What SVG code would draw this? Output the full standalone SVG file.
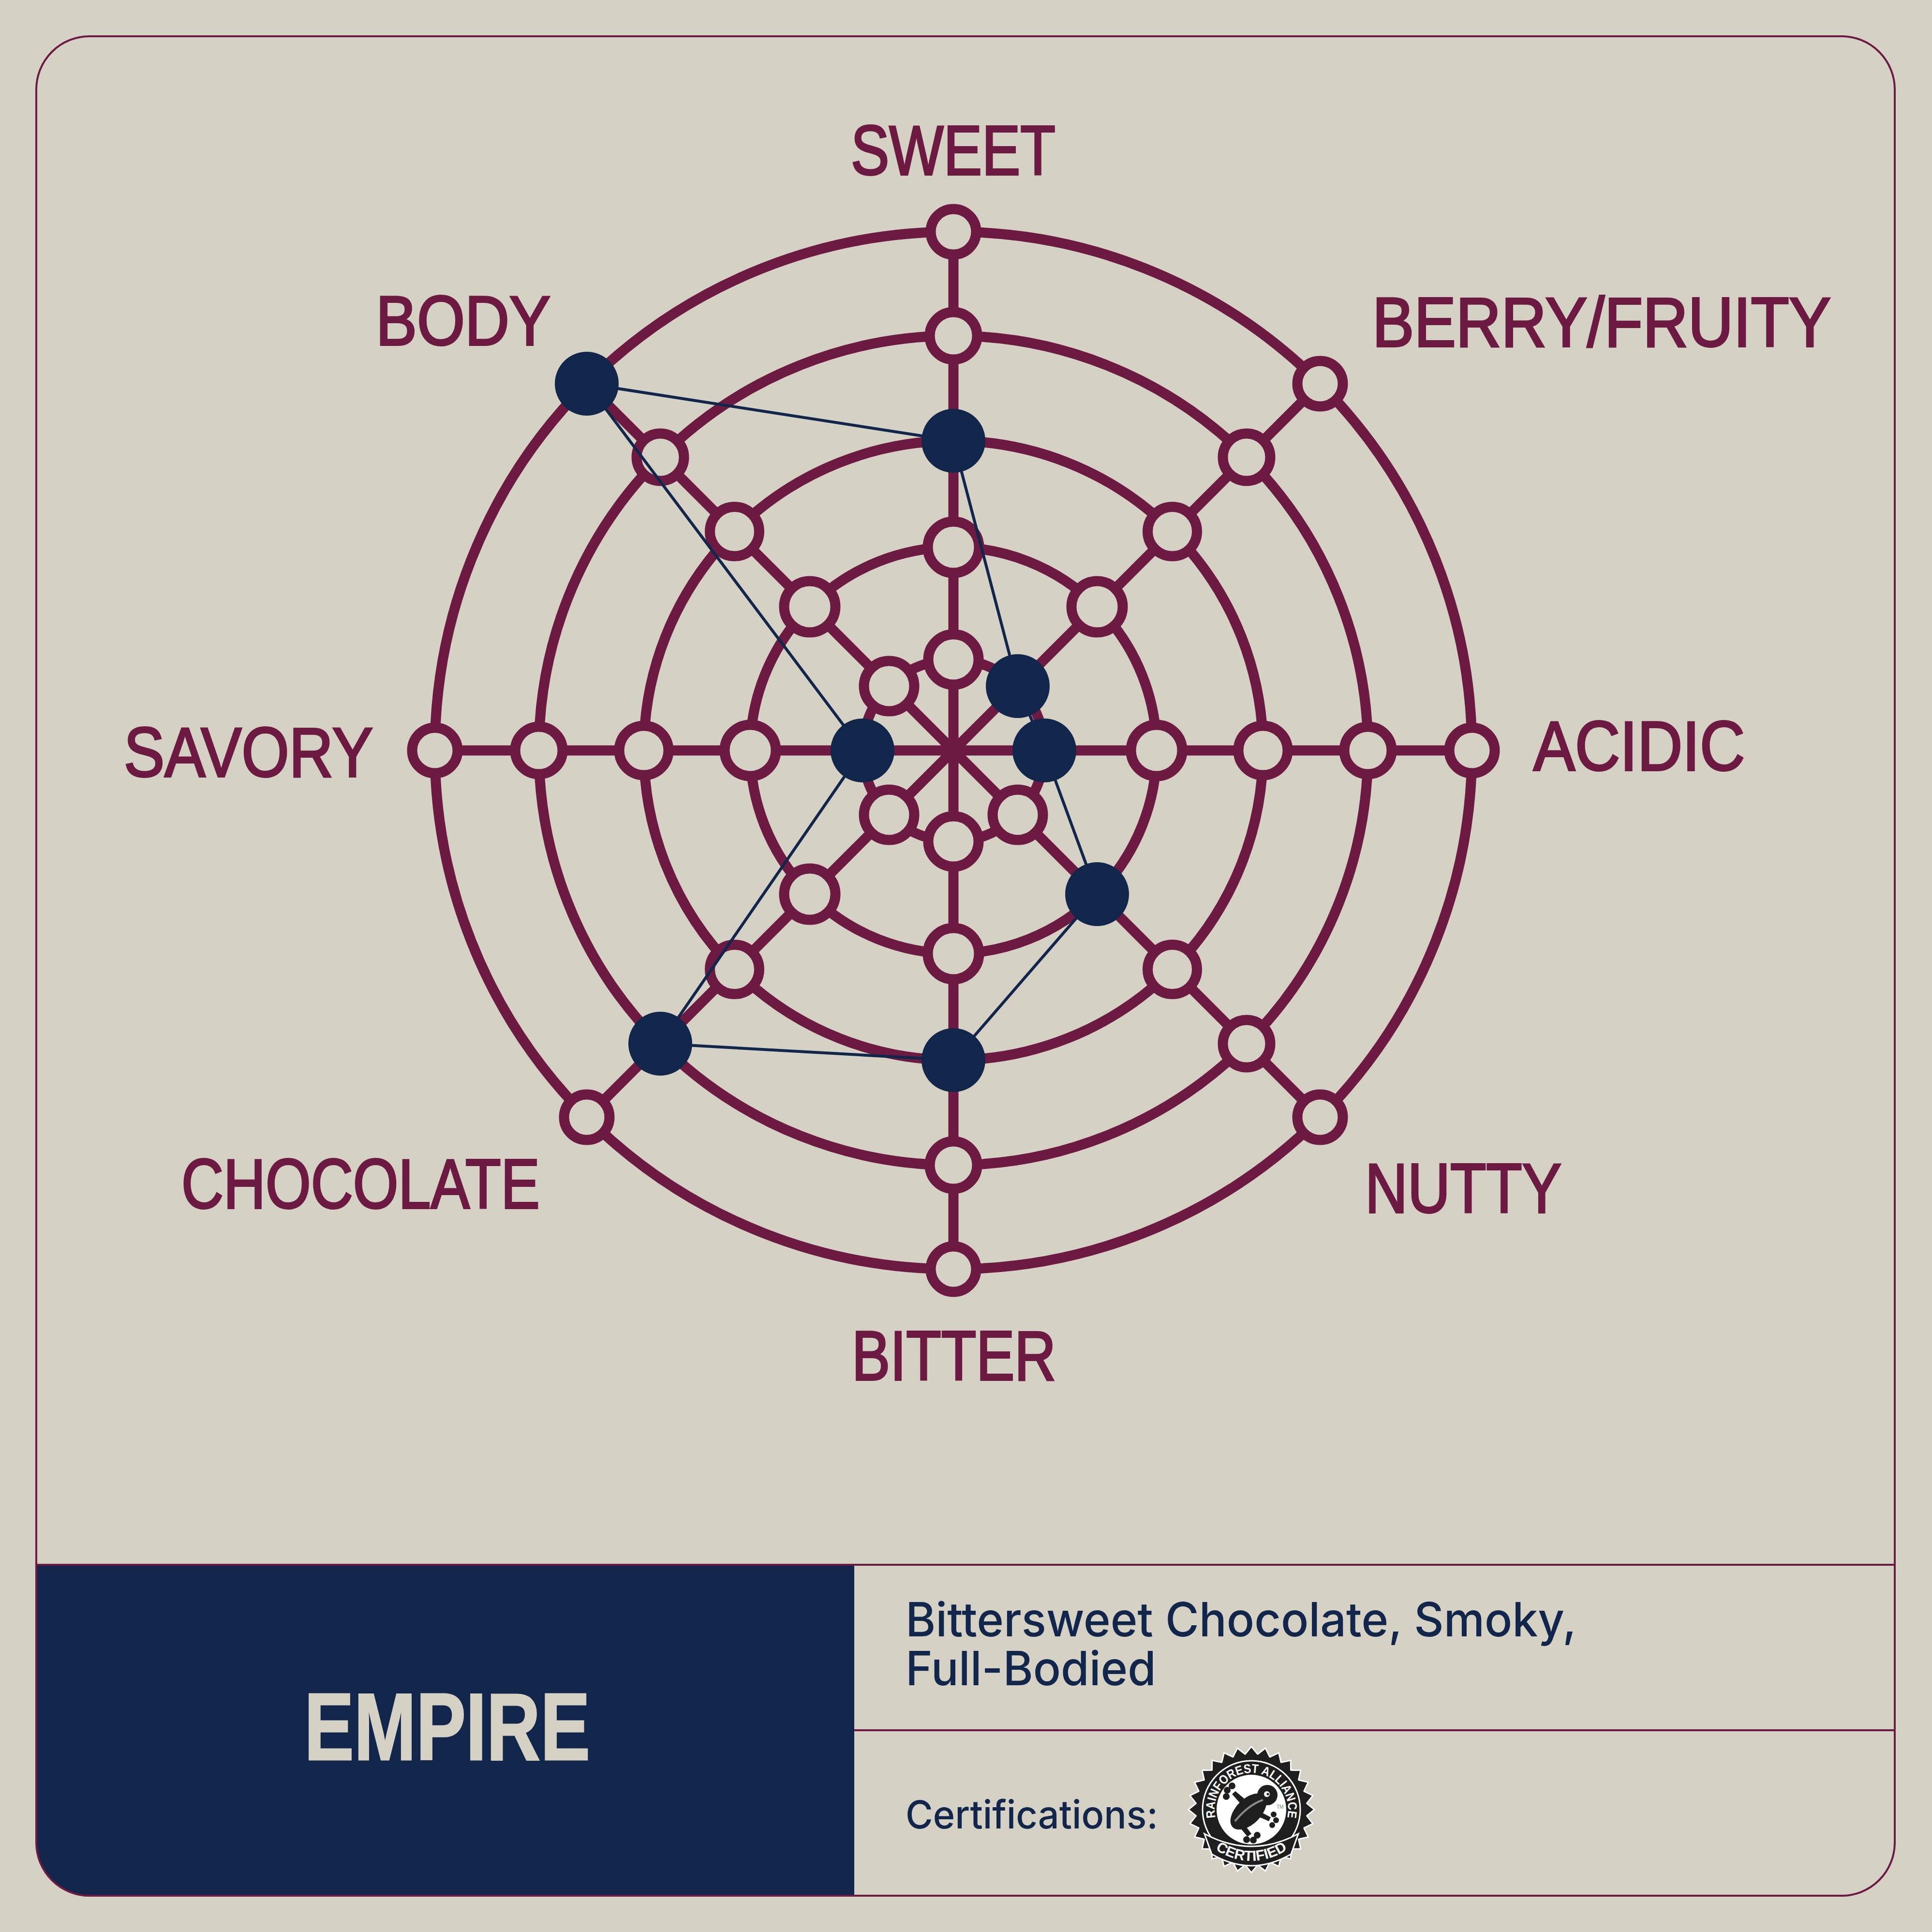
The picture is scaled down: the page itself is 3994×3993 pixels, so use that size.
<svg xmlns="http://www.w3.org/2000/svg" xmlns:xlink="http://www.w3.org/1999/xlink" width="3994" height="3993" viewBox="0 0 3994 3993">
<style>
.ring{fill:none;stroke:#6d1a43;stroke-width:21}
.spoke{stroke:#6d1a43;stroke-width:21}
.h0{fill:#d6d1c5;stroke:#6d1a43;stroke-width:21}
.f{fill:#12264b}
.lbl{font-family:"Liberation Sans",Arial,sans-serif;font-size:145px;fill:#6d1a43;stroke:#6d1a43;stroke-width:4}
.frame{fill:none;stroke:#6d1a43;stroke-width:4}
.desc{font-family:Inter,"Open Sans","Liberation Sans",sans-serif;font-weight:500;fill:#12264b}
.conn{fill:none;stroke:#12264b;stroke-width:6;stroke-linejoin:round}
.seal{font-family:"Liberation Sans",Arial,sans-serif;font-weight:bold;fill:#ffffff}
</style>
<defs>
<g id="spikes">
<polygon points="-13,-112 0,-128 13,-112"/><polygon points="-13,-112 0,-128 13,-112" transform="rotate(12.857)"/><polygon points="-13,-112 0,-128 13,-112" transform="rotate(25.714)"/><polygon points="-13,-112 0,-128 13,-112" transform="rotate(38.571)"/><polygon points="-13,-112 0,-128 13,-112" transform="rotate(51.429)"/><polygon points="-13,-112 0,-128 13,-112" transform="rotate(64.286)"/><polygon points="-13,-112 0,-128 13,-112" transform="rotate(77.143)"/><polygon points="-13,-112 0,-128 13,-112" transform="rotate(90)"/><polygon points="-13,-112 0,-128 13,-112" transform="rotate(102.857)"/><polygon points="-13,-112 0,-128 13,-112" transform="rotate(115.714)"/><polygon points="-13,-112 0,-128 13,-112" transform="rotate(128.571)"/><polygon points="-13,-112 0,-128 13,-112" transform="rotate(141.429)"/><polygon points="-13,-112 0,-128 13,-112" transform="rotate(154.286)"/><polygon points="-13,-112 0,-128 13,-112" transform="rotate(167.143)"/><polygon points="-13,-112 0,-128 13,-112" transform="rotate(180)"/><polygon points="-13,-112 0,-128 13,-112" transform="rotate(192.857)"/><polygon points="-13,-112 0,-128 13,-112" transform="rotate(205.714)"/><polygon points="-13,-112 0,-128 13,-112" transform="rotate(218.571)"/><polygon points="-13,-112 0,-128 13,-112" transform="rotate(231.429)"/><polygon points="-13,-112 0,-128 13,-112" transform="rotate(244.286)"/><polygon points="-13,-112 0,-128 13,-112" transform="rotate(257.143)"/><polygon points="-13,-112 0,-128 13,-112" transform="rotate(270)"/><polygon points="-13,-112 0,-128 13,-112" transform="rotate(282.857)"/><polygon points="-13,-112 0,-128 13,-112" transform="rotate(295.714)"/><polygon points="-13,-112 0,-128 13,-112" transform="rotate(308.571)"/><polygon points="-13,-112 0,-128 13,-112" transform="rotate(321.429)"/><polygon points="-13,-112 0,-128 13,-112" transform="rotate(334.286)"/><polygon points="-13,-112 0,-128 13,-112" transform="rotate(347.143)"/>
<circle r="114"/>
</g>
<path id="arcTop" d="M -73.4 19.7 A 76 76 0 1 1 73.4 19.7"/>
<path id="arcBot" d="M -66 88 Q 0 124 66 88"/>
</defs>
<rect x="0" y="0" width="3994" height="3993" fill="#d6d1c5"/>

<g id="panel">
<path d="M 75 3234 H 1766 V 3918 H 185 A 110 110 0 0 1 75 3808 Z" fill="#12264b"/>
<rect class="frame" x="75" y="75" width="3842" height="3843" rx="110"/>
<line class="frame" x1="75" y1="3234" x2="3917" y2="3234"/>
<line class="frame" x1="1766" y1="3576" x2="3917" y2="3576"/>
</g>

<g id="grid">
<circle class="ring" cx="1971" cy="1551" r="188"/>
<circle class="ring" cx="1971" cy="1551" r="420"/>
<circle class="ring" cx="1971" cy="1551" r="640"/>
<circle class="ring" cx="1971" cy="1551" r="857"/>
<circle class="ring" cx="1971" cy="1551" r="1072"/>
<line class="spoke" x1="1971" y1="1551" x2="1971" y2="479"/>
<line class="spoke" x1="1971" y1="1551" x2="1971" y2="2623"/>
<line class="spoke" x1="1971" y1="1551" x2="3043" y2="1551"/>
<line class="spoke" x1="1971" y1="1551" x2="899" y2="1551"/>
<line class="spoke" x1="1971" y1="1551" x2="2729" y2="793"/>
<line class="spoke" x1="1971" y1="1551" x2="2729" y2="2309"/>
<line class="spoke" x1="1971" y1="1551" x2="1213" y2="2309"/>
<line class="spoke" x1="1971" y1="1551" x2="1213" y2="793"/>
<circle cx="1971" cy="1551" r="28" fill="#6d1a43"/>
</g>

<g id="nodes-sweet">
<g id="sweet-0"><circle class="h0" cx="1971" cy="1363" r="52"/></g>
<g id="sweet-1"><circle class="h0" cx="1971" cy="1131" r="53"/></g>
<g id="sweet-3"><circle class="h0" cx="1971" cy="694" r="49"/></g>
<g id="sweet-4"><circle class="h0" cx="1971" cy="479" r="47"/></g>
</g>
<g id="nodes-bitter">
<g id="bitter-0"><circle class="h0" cx="1971" cy="1739" r="52"/></g>
<g id="bitter-1"><circle class="h0" cx="1971" cy="1971" r="53"/></g>
<g id="bitter-3"><circle class="h0" cx="1971" cy="2408" r="49"/></g>
<g id="bitter-4"><circle class="h0" cx="1971" cy="2623" r="47"/></g>
</g>
<g id="nodes-acidic">
<g id="acidic-1"><circle class="h0" cx="2391" cy="1551" r="53"/></g>
<g id="acidic-2"><circle class="h0" cx="2611" cy="1551" r="51"/></g>
<g id="acidic-3"><circle class="h0" cx="2828" cy="1551" r="49"/></g>
<g id="acidic-4"><circle class="h0" cx="3043" cy="1551" r="47"/></g>
</g>
<g id="nodes-savory">
<g id="savory-1"><circle class="h0" cx="1551" cy="1551" r="53"/></g>
<g id="savory-2"><circle class="h0" cx="1331" cy="1551" r="51"/></g>
<g id="savory-3"><circle class="h0" cx="1114" cy="1551" r="49"/></g>
<g id="savory-4"><circle class="h0" cx="899" cy="1551" r="47"/></g>
</g>
<g id="nodes-berry">
<g id="berry-1"><circle class="h0" cx="2268" cy="1254" r="53"/></g>
<g id="berry-2"><circle class="h0" cx="2423.5" cy="1098.5" r="51"/></g>
<g id="berry-3"><circle class="h0" cx="2577" cy="945" r="49"/></g>
<g id="berry-4"><circle class="h0" cx="2729" cy="793" r="47"/></g>
</g>
<g id="nodes-nutty">
<g id="nutty-0"><circle class="h0" cx="2104" cy="1684" r="52"/></g>
<g id="nutty-2"><circle class="h0" cx="2423.5" cy="2003.5" r="51"/></g>
<g id="nutty-3"><circle class="h0" cx="2577" cy="2157" r="49"/></g>
<g id="nutty-4"><circle class="h0" cx="2729" cy="2309" r="47"/></g>
</g>
<g id="nodes-chocolate">
<g id="chocolate-0"><circle class="h0" cx="1838" cy="1684" r="52"/></g>
<g id="chocolate-1"><circle class="h0" cx="1674" cy="1848" r="53"/></g>
<g id="chocolate-2"><circle class="h0" cx="1518.5" cy="2003.5" r="51"/></g>
<g id="chocolate-4"><circle class="h0" cx="1213" cy="2309" r="47"/></g>
</g>
<g id="nodes-body">
<g id="body-0"><circle class="h0" cx="1838" cy="1418" r="52"/></g>
<g id="body-1"><circle class="h0" cx="1674" cy="1254" r="53"/></g>
<g id="body-2"><circle class="h0" cx="1518.5" cy="1098.5" r="51"/></g>
<g id="body-3"><circle class="h0" cx="1365" cy="945" r="49"/></g>
</g>

<g id="connectors">
<polygon class="conn" points="1213,793 1971,911 2104,1418 2159,1551 2268,1848 1971,2191 1365,2157 1783,1551"/>
</g>

<g id="values">
<g id="val-sweet"><circle class="f" cx="1971" cy="911" r="66"/></g>
<g id="val-berry"><circle class="f" cx="2104" cy="1418" r="66"/></g>
<g id="val-acidic"><circle class="f" cx="2159" cy="1551" r="66"/></g>
<g id="val-nutty"><circle class="f" cx="2268" cy="1848" r="66"/></g>
<g id="val-bitter"><circle class="f" cx="1971" cy="2191" r="66"/></g>
<g id="val-chocolate"><circle class="f" cx="1365" cy="2157" r="66"/></g>
<g id="val-savory"><circle class="f" cx="1783" cy="1551" r="66"/></g>
<g id="val-body"><circle class="f" cx="1213" cy="793" r="66"/></g>
</g>

<g id="labels">
<text class="lbl" x="1759" y="361" textLength="423" lengthAdjust="spacingAndGlyphs">SWEET</text>
<text class="lbl" x="2837" y="716" textLength="948" lengthAdjust="spacingAndGlyphs">BERRY/FRUITY</text>
<text class="lbl" x="777" y="713" textLength="361" lengthAdjust="spacingAndGlyphs">BODY</text>
<text class="lbl" x="3170" y="1592" textLength="437" lengthAdjust="spacingAndGlyphs">ACIDIC</text>
<text class="lbl" x="256" y="1605" textLength="515" lengthAdjust="spacingAndGlyphs">SAVORY</text>
<text class="lbl" x="375" y="2497" textLength="741" lengthAdjust="spacingAndGlyphs">CHOCOLATE</text>
<text class="lbl" x="2822" y="2506" textLength="406" lengthAdjust="spacingAndGlyphs">NUTTY</text>
<text class="lbl" x="1761" y="2852" textLength="422" lengthAdjust="spacingAndGlyphs">BITTER</text>
</g>

<g id="name">
<text x="629" y="3637" textLength="591" lengthAdjust="spacingAndGlyphs" style="font-family:'Liberation Sans',Arial,sans-serif;font-weight:bold;font-size:196px;fill:#d6d1c5;stroke:#d6d1c5;stroke-width:3">EMPIRE</text>
</g>

<g id="description">
<text class="desc" x="1872" y="3382" font-size="98" textLength="1387" lengthAdjust="spacingAndGlyphs">Bittersweet Chocolate, Smoky,</text>
<text class="desc" x="1872" y="3483" font-size="98" textLength="518" lengthAdjust="spacingAndGlyphs">Full-Bodied</text>
<text class="desc" x="1872" y="3779" font-size="80" textLength="522" lengthAdjust="spacingAndGlyphs">Certifications:</text>
</g>

<g id="seal" transform="translate(2587,3740)">
<use xlink:href="#spikes" href="#spikes" fill="#ffffff" transform="scale(1.035)"/>
<use xlink:href="#spikes" href="#spikes" fill="#1e1e1e"/>
<circle r="101" fill="none" stroke="#ffffff" stroke-width="3"/>
<circle r="72" fill="#ffffff"/>
<text class="seal" font-size="26"><textPath xlink:href="#arcTop" href="#arcTop" startOffset="50%" text-anchor="middle" textLength="272" lengthAdjust="spacingAndGlyphs">RAINFOREST ALLIANCE</textPath></text>
<g id="frog" fill="#1e1e1e">
<ellipse cx="-6" cy="4" rx="46" ry="26" transform="rotate(-45 -6 4)"/>
<circle cx="33" cy="-30" r="21"/>
<path d="M -24 -14 L -40 -32 L -33 -38 L -14 -22 Z"/>
<circle cx="-50" cy="-40" r="7"/><circle cx="-40" cy="-49" r="7"/><circle cx="-52" cy="-27" r="7"/>
<path d="M 10 0 L 40 16 L 36 24 L 4 10 Z"/>
<circle cx="46" cy="10" r="6"/><circle cx="51" cy="22" r="6"/><circle cx="43" cy="32" r="6"/>
<path d="M -18 26 L 0 50 L -8 56 L -28 32 Z"/>
<circle cx="-10" cy="62" r="7"/><circle cx="4" cy="63" r="7"/><circle cx="12" cy="53" r="7"/>
<path d="M -34 24 Q -6 -10 24 -20" fill="none" stroke="#8a8a8a" stroke-width="4"/>
<circle cx="32" cy="-32" r="6" fill="#ffffff"/><circle cx="34" cy="-32" r="2.5" fill="#1e1e1e"/>
</g>
<text x="52" y="-2" font-family="Liberation Sans,Arial,sans-serif" font-size="10" fill="#6f8f6f">TM</text>
<path d="M -97 50 Q 0 102 97 50 L 82 92 Q 0 140 -82 92 Z" fill="#1e1e1e" stroke="#ffffff" stroke-width="3"/>
<text class="seal" font-size="30"><textPath xlink:href="#arcBot" href="#arcBot" startOffset="50%" text-anchor="middle">CERTIFIED</textPath></text>
</g>
</svg>
